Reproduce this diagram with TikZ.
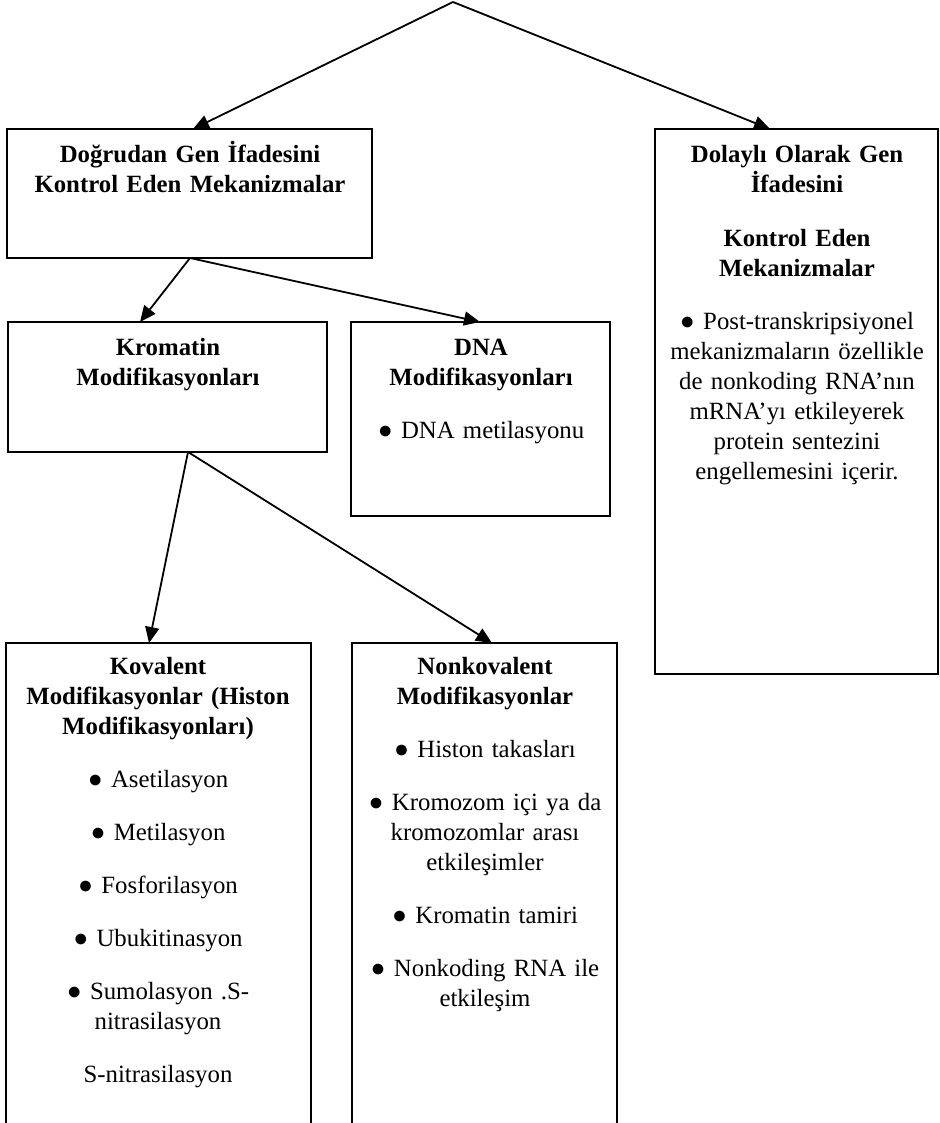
\documentclass[tikz,border=0pt]{standalone}
\usepackage{fontspec}
\setmainfont{Liberation Serif}
\usetikzlibrary{calc,arrows.meta}
\begin{document}
\begin{tikzpicture}[x=0.5pt,y=-0.5pt,
  box/.style={draw,line width=1pt,anchor=north west,inner sep=0,outer sep=0},
  txt/.style={align=center,text width=200pt,inner sep=0,anchor=base,font=\fontsize{12.4}{15}\selectfont},
  arr/.style={line width=0.9pt,-{Triangle[length=8pt,width=7pt]}}]
\clip (0,0) rectangle (940,1123);
\fill[white] (0,0) rectangle (940,1123);

\node[box,minimum width=182.5pt,minimum height=64.5pt] (A) at (7,129) {};
\node[box,minimum width=141.5pt,minimum height=272.5pt] (B) at (655,129) {};
\node[box,minimum width=159.5pt,minimum height=65pt] (C) at (8,322) {};
\node[box,minimum width=129.5pt,minimum height=97pt] (D) at (351,322) {};
\node[box,minimum width=152.5pt,minimum height=250pt] (E) at (6,643) {};
\node[box,minimum width=132.5pt,minimum height=250pt] (F) at (352,643) {};

\node[txt] (tA) at (190,163) {\bfseries Doğrudan Gen İfadesini\\Kontrol Eden Mekanizmalar};
\node[txt] (tB) at (797,163) {\bfseries Dolaylı Olarak Gen\\İfadesini\\[11.5pt]Kontrol Eden\\Mekanizmalar\\[11.5pt]\mdseries ● Post-transkripsiyonel\\mekanizmaların özellikle\\de nonkoding RNA’nın\\mRNA’yı etkileyerek\\protein sentezini\\engellemesini içerir.};
\node[txt] (tC) at (168,355) {\bfseries Kromatin\\Modifikasyonları};
\node[txt] (tD) at (481,355) {\bfseries DNA\\Modifikasyonları\\[11.5pt]\mdseries ● DNA metilasyonu};
\node[txt] (tE) at (158,674) {\bfseries Kovalent\\Modifikasyonlar (Histon\\Modifikasyonları)\\[11.5pt]\mdseries ● Asetilasyon\\[11.5pt]● Metilasyon\\[11.5pt]● Fosforilasyon\\[11.5pt]● Ubukitinasyon\\[11.5pt]● Sumolasyon .S-\\nitrasilasyon\\[11.5pt]S-nitrasilasyon};
\node[txt] (tF) at (485,674) {\bfseries Nonkovalent\\Modifikasyonlar\\[11.5pt]\mdseries ● Histon takasları\\[11.5pt]● Kromozom içi ya da\\kromozomlar arası\\etkileşimler\\[11.5pt]● Kromatin tamiri\\[11.5pt]● Nonkoding RNA ile\\etkileşim};

\coordinate (top) at (453,2);
\draw[arr] (top) -- ($(A.north west)+(186,0)$);
\draw[arr] (top) -- ($(B.north west)+(115,0)$);
\draw[arr] ($(A.south west)+(183,0)$) -- ($(C.north west)+(132,0)$);
\draw[arr] ($(A.south west)+(183,0)$) -- ($(D.north west)+(129,0)$);
\draw[arr] ($(C.south west)+(180,0)$) -- ($(E.north west)+(143,0)$);
\draw[arr] ($(C.south west)+(180,0)$) -- ($(F.north west)+(140,0)$);
\end{tikzpicture}
\end{document}
